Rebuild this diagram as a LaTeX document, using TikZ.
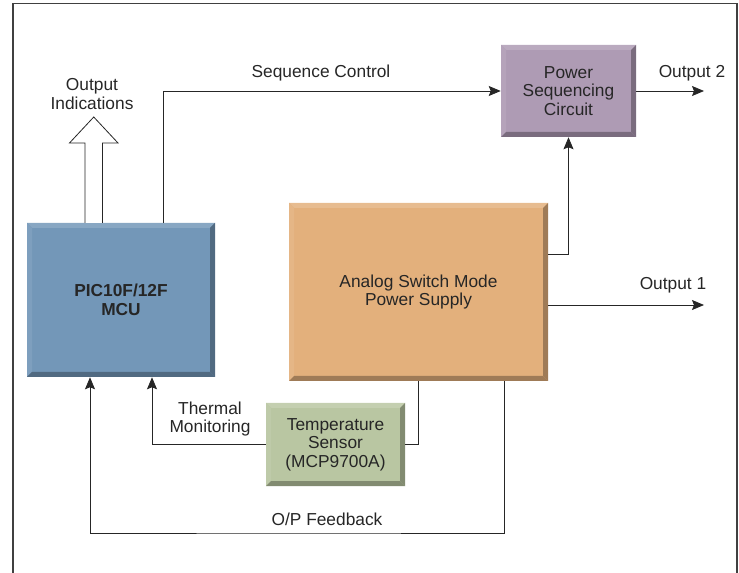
\documentclass[tikz,border=0pt]{standalone}
\usepackage{fontspec}
\setmainfont{Liberation Sans}
\usepackage{xcolor}
\usetikzlibrary{arrows.meta}

\definecolor{mcublue}{HTML}{7397B8}
\definecolor{psorange}{HTML}{E3B07C}
\definecolor{pscpurple}{HTML}{AE9BB4}
\definecolor{tsgreen}{HTML}{B9C6A2}

\begin{document}
\begin{tikzpicture}[x=0.75pt, y=-0.75pt,
      every node/.style = {font=\fontsize{13pt}{14pt}\selectfont, align=center, text=black!85},
      bevel/.style = {shape=rectangle, inner sep=0pt, fill=#1,
        path picture={
          \path (path picture bounding box.north west) coordinate (nw)
                (path picture bounding box.north east) coordinate (ne)
                (path picture bounding box.south west) coordinate (sw)
                (path picture bounding box.south east) coordinate (se);
          \fill[#1!85!white] (nw) -- (ne) -- ([shift={(-3.75pt,-3.75pt)}]ne) -- ([shift={(3.75pt,-3.75pt)}]nw) -- cycle;
          \fill[#1!92!white] (nw) -- ([shift={(3.75pt,-3.75pt)}]nw) -- ([shift={(3.75pt,3.75pt)}]sw) -- (sw) -- cycle;
          \fill[#1!70!black] (ne) -- (se) -- ([shift={(-3.75pt,3.75pt)}]se) -- ([shift={(-3.75pt,-3.75pt)}]ne) -- cycle;
          \fill[#1!70!black] (sw) -- (se) -- ([shift={(-3.75pt,3.75pt)}]se) -- ([shift={(3.75pt,3.75pt)}]sw) -- cycle;
        }},
      wire/.style = {draw=black!85, line width=0.6pt},
      arr/.style = {wire, -{Stealth[length=9pt, width=7.5pt, inset=1.5pt]}}]
  \useasboundingbox (0,0) rectangle (739,573);
  \draw[line width=1.3pt, draw=black!75] (13,3.5) rectangle (737,576);

  % blocks
  \node[bevel=mcublue, minimum width=141pt, minimum height=115.5pt,
        font=\fontsize{13pt}{14pt}\selectfont\bfseries] (mcu) at (121,300) {PIC10F/12F\\MCU};
  \node[bevel=psorange, minimum width=194.25pt, minimum height=133.5pt] (asmps) at (418.5,292) {Analog Switch Mode\\Power Supply};
  \node[bevel=pscpurple, minimum width=101.25pt, minimum height=69pt] (psc) at (568.5,91) {Power\\Sequencing\\Circuit};
  \node[bevel=tsgreen, minimum width=104.25pt, minimum height=62.25pt] (tsense) at (335.5,444.5) {Temperature\\Sensor\\(MCP9700A)};

  % labels
  \node (outind) at (92,94) {Output\\Indications};
  \node (seqlbl) at (321,73) {Sequence Control};
  \node (out2lbl) at (692,73) {Output 2};
  \node (out1lbl) at (673,285) {Output 1};
  \node (thermlbl) at (210,419) {Thermal\\Monitoring};
  \node (fblbl) at (327,519) {O/P Feedback};

  \coordinate (o2) at (704,91);
  \coordinate (o1) at (704,305);
  \coordinate (fb) at (300,533);

  % connectors
  \draw[wire, fill=white] (85,223) -- (85,143) -- (69.5,143) -- (93.75,117)
        -- (118,143) -- (102.5,143) -- (102.5,223);
  \draw[arr] ([xshift=31.5pt]mcu.north) |- (psc.west);
  \draw[arr] (psc.east) -- (o2);
  \draw[arr] ([yshift=28.5pt]asmps.east) -| (psc.south);
  \draw[arr] (asmps.east |- o1) -- (o1);
  \draw[wire] (asmps.south) |- (tsense.east);
  \draw[arr] (tsense.west) -| ([xshift=23.25pt]mcu.south);
  \draw[arr] ([xshift=64.125pt]asmps.south) |- (fb) -| ([xshift=-23.25pt]mcu.south);
\end{tikzpicture}
\end{document}
